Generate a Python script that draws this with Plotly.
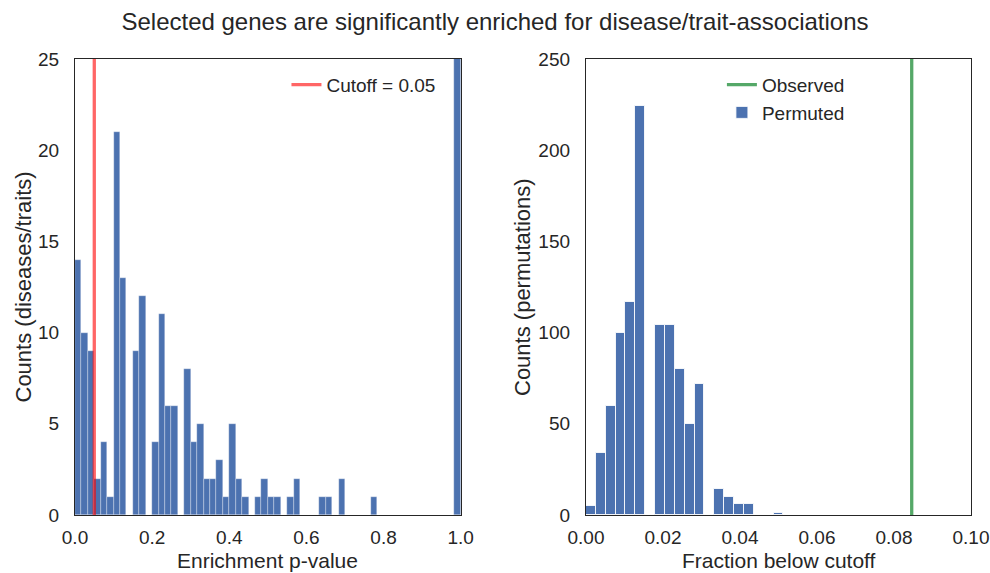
import plotly.graph_objects as go

# ---------------- data ----------------
# Left: histogram of enrichment p-values, 60 equal bins on [0, 1]
pval_bin_counts = [14, 10, 9, 2, 4, 1, 21, 13, 0, 9, 12, 0, 4, 11, 6, 6, 0, 8, 4, 5,
                   2, 2, 3, 1, 5, 2, 1, 0, 1, 2, 1, 1, 0, 1, 2, 0, 0, 0, 1, 1,
                   0, 2, 0, 0, 0, 0, 1, 0, 0, 0, 0, 0, 0, 0, 0, 0, 0, 0, 0, 222]
pval_n_bins = 60
cutoff = 0.05

# Right: histogram of permuted fractions below cutoff (bins of width 1/390)
perm_bin_counts = [5, 34, 60, 100, 117, 224, 0, 104, 104, 80, 50, 72, 0, 14, 10, 6, 6, 0, 0, 1]
perm_bin_width = 1 / 390
observed_fraction = 0.0846

left_xticks = [0.0, 0.2, 0.4, 0.6, 0.8, 1.0]
left_yticks = [0, 5, 10, 15, 20, 25]
right_xticks = [0.00, 0.02, 0.04, 0.06, 0.08, 0.10]
right_yticks = [0, 50, 100, 150, 200, 250]

title_text = "Selected genes are significantly enriched for disease/trait-associations"
left_xlabel = "Enrichment p-value"
left_ylabel = "Counts (diseases/traits)"
right_xlabel = "Fraction below cutoff"
right_ylabel = "Counts (permutations)"

# ---------------- style ----------------
BLUE = "#4c72b0"
GREEN = "#55a868"
RED = "rgba(255,0,0,0.6)"
TXT = "#262626"
FONT = "Liberation Sans, Arial, sans-serif"

pval_width = 1 / pval_n_bins
pval_centers = [(i + 0.5) * pval_width for i in range(len(pval_bin_counts))]
perm_centers = [(i + 0.5) * perm_bin_width for i in range(len(perm_bin_counts))]

fig = go.Figure()

fig.add_trace(go.Bar(
    x=pval_centers, y=pval_bin_counts, width=pval_width,
    marker=dict(color=BLUE, line=dict(color="rgba(255,255,255,0.6)", width=0.5)),
    showlegend=False, xaxis="x", yaxis="y",
))
fig.add_trace(go.Scatter(
    x=[cutoff, cutoff], y=[0, 25], mode="lines",
    line=dict(color=RED, width=3.3),
    name="Cutoff = 0.05", legend="legend", xaxis="x", yaxis="y",
))

fig.add_trace(go.Scatter(
    x=[observed_fraction, observed_fraction], y=[0, 250], mode="lines",
    line=dict(color=GREEN, width=3.3),
    name="Observed", legend="legend2", xaxis="x2", yaxis="y2",
))
fig.add_trace(go.Bar(
    x=perm_centers, y=perm_bin_counts, width=perm_bin_width,
    marker=dict(color=BLUE, line=dict(color="rgba(255,255,255,0.85)", width=1)),
    name="Permuted", legend="legend2", xaxis="x2", yaxis="y2",
))

axis_common = dict(
    showgrid=False, zeroline=False, showline=True, mirror=True,
    linecolor=TXT, linewidth=1.25, ticks="", automargin=False,
    tickfont=dict(size=19, color=TXT, family=FONT),
)

PLOT_W = 990 - 75 - 19
PLOT_H = 573 - 59 - 58
d_left_end = 385.7 / PLOT_W
d_right_start = 511 / PLOT_W

fig.update_layout(
    width=990, height=573,
    margin=dict(l=75, r=19, t=59, b=58),
    plot_bgcolor="white", paper_bgcolor="white",
    font=dict(family=FONT, color=TXT, size=19),
    title=dict(text=title_text, x=0.5, xanchor="center", y=0.962, yanchor="middle",
               font=dict(size=24, color=TXT, family=FONT)),
    bargap=0,
    xaxis=dict(domain=[0, d_left_end], range=[0, 1], tickvals=left_xticks,
               tickformat=".1f", anchor="y", ticklabelstandoff=5, **axis_common),
    yaxis=dict(domain=[0, 1], range=[0, 25], tickvals=left_yticks, anchor="x",
               ticklabelstandoff=11, **axis_common),
    xaxis2=dict(domain=[d_right_start, 1], range=[0, 0.1], tickvals=right_xticks,
                tickformat=".2f", anchor="y2", ticklabelstandoff=5, **axis_common),
    yaxis2=dict(domain=[0, 1], range=[0, 250], tickvals=right_yticks, anchor="x2",
                ticklabelstandoff=11, **axis_common),
    legend=dict(x=0.236, y=0.985, xanchor="left", yanchor="top",
                bgcolor="rgba(0,0,0,0)", font=dict(size=19, color=TXT)),
    legend2=dict(x=0.722, y=0.985, xanchor="left", yanchor="top",
                 bgcolor="rgba(0,0,0,0)", font=dict(size=19, color=TXT),
                 tracegroupgap=0),
)

ann_font = dict(size=21, color=TXT, family=FONT)
xlab_y = -(572.8 - 515) / PLOT_H
fig.add_annotation(text=left_xlabel, xref="paper", yref="paper",
                   x=d_left_end / 2, y=xlab_y, xanchor="center", yanchor="bottom",
                   borderpad=0, showarrow=False, font=ann_font)
fig.add_annotation(text=right_xlabel, xref="paper", yref="paper",
                   x=(d_right_start + 1) / 2, y=xlab_y, xanchor="center", yanchor="bottom",
                   borderpad=0, showarrow=False, font=ann_font)
fig.add_annotation(text=left_ylabel, xref="paper", yref="paper",
                   x=(22.5 - 75) / PLOT_W, y=0.5, xanchor="center", yanchor="middle",
                   textangle=-90, showarrow=False, font=dict(size=22, color=TXT, family=FONT))
fig.add_annotation(text=right_ylabel, xref="paper", yref="paper",
                   x=(522 - 75) / PLOT_W, y=0.5, xanchor="center", yanchor="middle",
                   textangle=-90, showarrow=False, font=dict(size=22, color=TXT, family=FONT))

fig.write_html("out.html")
